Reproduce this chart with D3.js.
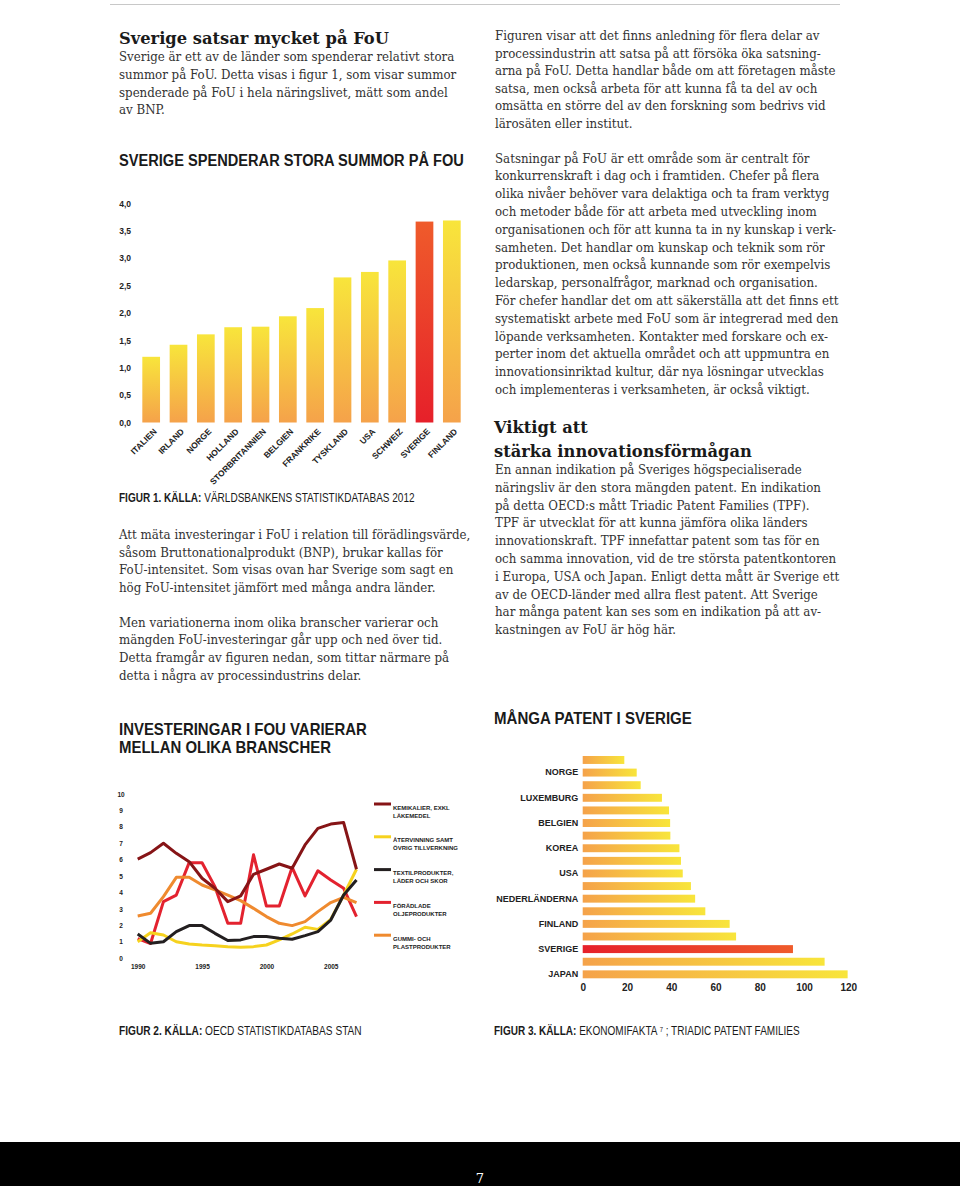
<!DOCTYPE html>
<html>
<head>
<meta charset="utf-8">
<script src="https://cdn.jsdelivr.net/npm/d3@7"></script>
<style>
  html, body { margin: 0; padding: 0; background: #fff; }
  svg { display: block; }
  .body { font-family: "DejaVu Serif", serif; font-size: 12.5px; fill: #333; }
  .head { font-family: "DejaVu Serif", serif; font-weight: bold; font-size: 16.5px; fill: #1a1a1a; }
  .title { font-family: "Liberation Sans", Arial, sans-serif; font-weight: bold; font-size: 17px; fill: #1a1a1a; }
  .cap { font-family: "Liberation Sans", Arial, sans-serif; font-size: 12px; fill: #1a1a1a; }
  .cap .b { font-weight: bold; }
  .tick1 { font-family: "Liberation Sans", Arial, sans-serif; font-weight: bold; font-size: 8.5px; fill: #222; }
  .tick2 { font-family: "Liberation Sans", Arial, sans-serif; font-weight: bold; font-size: 6.5px; fill: #222; }
  .tick3 { font-family: "Liberation Sans", Arial, sans-serif; font-weight: bold; font-size: 10px; fill: #222; }
  .lab3 { font-family: "Liberation Sans", Arial, sans-serif; font-weight: bold; font-size: 9px; fill: #222; }
  .leg { font-family: "Liberation Sans", Arial, sans-serif; font-weight: bold; font-size: 6px; fill: #222; }
</style>
</head>
<body>
<svg id="page" width="960" height="1186"></svg>
<script>
// ---- figur 1: FoU som andel av BNP ----
const fouCountries = ["ITALIEN", "IRLAND", "NORGE", "HOLLAND", "STORBRITANNIEN", "BELGIEN",
  "FRANKRIKE", "TYSKLAND", "USA", "SCHWEIZ", "SVERIGE", "FINLAND"];
const fouShare = [1.2, 1.42, 1.61, 1.74, 1.75, 1.94, 2.09, 2.65, 2.75, 2.96, 3.67, 3.69];
const fouTicks = [0, 0.5, 1, 1.5, 2, 2.5, 3, 3.5, 4];

// ---- figur 2: investeringar i FoU per bransch ----
const years = [1990, 1991, 1992, 1993, 1994, 1995, 1996, 1997, 1998, 1999,
  2000, 2001, 2002, 2003, 2004, 2005, 2006, 2007];
const kemikalier = [6.04, 6.43, 7.0, 6.39, 5.88, 4.87, 4.26, 3.45, 3.8, 5.11, 5.42, 5.74, 5.48, 6.9, 7.91, 8.17, 8.26, 5.42];
const atervinning = [1.01, 1.56, 1.42, 1.01, 0.87, 0.81, 0.77, 0.71, 0.67, 0.71, 0.81, 1.12, 1.48, 1.89, 1.76, 2.37, 3.85, 5.42];
const textil = [1.48, 0.91, 1.01, 1.62, 1.99, 1.99, 1.52, 1.08, 1.12, 1.32, 1.32, 1.22, 1.16, 1.38, 1.62, 2.33, 3.85, 4.77];
const oljeprodukter = [1.2, 0.9, 3.45, 3.85, 5.82, 5.82, 4.36, 2.13, 2.13, 6.3, 3.18, 3.18, 5.54, 3.8, 5.33, 4.77, 4.26, 2.54];
const gummi = [2.58, 2.74, 3.75, 4.93, 4.93, 4.46, 4.16, 3.85, 3.51, 3.04, 2.54, 2.13, 1.99, 2.23, 2.84, 3.39, 3.71, 3.39];
const yearTicks = [1990, 1995, 2000, 2005];
const valueTicks = [0, 1, 2, 3, 4, 5, 6, 7, 8, 9, 10];

const seriesNames = [["KEMIKALIER, EXKL", "LÄKEMEDEL"], ["ÅTERVINNING SAMT", "ÖVRIG TILLVERKNING"],
  ["TEXTILPRODUKTER,", "LÄDER OCH SKOR"], ["FÖRÄDLADE", "OLJEPRODUKTER"], ["GUMMI- OCH", "PLASTPRODUKTER"]];
const seriesColors = ["#861416", "#f6d21e", "#231f20", "#e3222f", "#ef8a2f"];
const seriesValues = [kemikalier, atervinning, textil, oljeprodukter, gummi];
// drawing order (back to front)
const drawOrder = [3, 1, 4, 2, 0];

// ---- figur 3: triadic patent families ----
const patentLabels = ["", "NORGE", "", "LUXEMBURG", "", "BELGIEN", "", "KOREA", "", "USA",
  "", "NEDERLÄNDERNA", "", "FINLAND", "", "SVERIGE", "", "JAPAN"];
const patentValues = [18.8, 24.4, 26.2, 35.8, 39.0, 39.5, 39.6, 43.7, 44.4, 45.2,
  48.9, 50.8, 55.4, 66.4, 69.3, 95.0, 109.3, 119.7];
const patentTicks = [0, 20, 40, 60, 80, 100, 120];

// ---- texts ----
const introLines = ["Sverige är ett av de länder som spenderar relativt stora",
  "summor på FoU. Detta visas i figur 1, som visar summor",
  "spenderade på FoU i hela näringslivet, mätt som andel",
  "av BNP."];
const rightTopLines = ["Figuren visar att det finns anledning för flera delar av",
  "processindustrin att satsa på att försöka öka satsning-",
  "arna på FoU. Detta handlar både om att företagen måste",
  "satsa, men också arbeta för att kunna få ta del av och",
  "omsätta en större del av den forskning som bedrivs vid",
  "lärosäten eller institut."];
const rightMidLines = ["Satsningar på FoU är ett område som är centralt för",
  "konkurrenskraft i dag och i framtiden. Chefer på flera",
  "olika nivåer behöver vara delaktiga och ta fram verktyg",
  "och metoder både för att arbeta med utveckling inom",
  "organisationen och för att kunna ta in ny kunskap i verk-",
  "samheten. Det handlar om kunskap och teknik som rör",
  "produktionen, men också kunnande som rör exempelvis",
  "ledarskap, personalfrågor, marknad och organisation.",
  "För chefer handlar det om att säkerställa att det finns ett",
  "systematiskt arbete med FoU som är integrerad med den",
  "löpande verksamheten. Kontakter med forskare och ex-",
  "perter inom det aktuella området och att uppmuntra en",
  "innovationsinriktad kultur, där nya lösningar utvecklas",
  "och implementeras i verksamheten, är också viktigt."];
const rightLowLines = ["En annan indikation på Sveriges högspecialiserade",
  "näringsliv är den stora mängden patent. En indikation",
  "på detta OECD:s mått Triadic Patent Families (TPF).",
  "TPF är utvecklat för att kunna jämföra olika länders",
  "innovationskraft. TPF innefattar patent som tas för en",
  "och samma innovation, vid de tre största patentkontoren",
  "i Europa, USA och Japan. Enligt detta mått är Sverige ett",
  "av de OECD-länder med allra flest patent. Att Sverige",
  "har många patent kan ses som en indikation på att av-",
  "kastningen av FoU är hög här."];
const leftMidLines = ["Att mäta investeringar i FoU i relation till förädlingsvärde,",
  "såsom Bruttonationalprodukt (BNP), brukar kallas för",
  "FoU-intensitet. Som visas ovan har Sverige som sagt en",
  "hög FoU-intensitet jämfört med många andra länder.",
  "Men variationerna inom olika branscher varierar och",
  "mängden FoU-investeringar går upp och ned över tid.",
  "Detta framgår av figuren nedan, som tittar närmare på",
  "detta i några av processindustrins delar."];

const svg = d3.select("#page");
const defs = svg.append("defs");

function gradient(id, horizontal, from, to) {
  const g = defs.append("linearGradient").attr("id", id)
    .attr("x1", 0).attr("y1", 0)
    .attr("x2", horizontal ? 1 : 0).attr("y2", horizontal ? 0 : 1);
  g.append("stop").attr("offset", 0).attr("stop-color", from);
  g.append("stop").attr("offset", 1).attr("stop-color", to);
}
gradient("barV", false, "#f8e53b", "#f5a24a");
gradient("barVHi", false, "#ef5b2b", "#e6202a");
gradient("barH", true, "#f5a24a", "#f8e53b");
gradient("barHHi", true, "#e6202a", "#ef5b2b");

function measure(txt, cls) {
  const t = svg.append("text").attr("class", cls).text(txt);
  const w = t.node().getComputedTextLength();
  t.remove();
  return w;
}

function block(x, baselines, lines, cls, sx) {
  const g = svg.append("g").attr("class", cls);
  lines.forEach((line, i) => {
    g.append("text")
      .attr("transform", `translate(${x},${baselines[i]}) scale(${sx},1)`)
      .text(line);
  });
}

function rows(y0, step, n) {
  return d3.range(n).map(i => y0 + i * step);
}

// caption with bold lead and optional superscript
function caption(x, y, parts, target) {
  const t = svg.append("text").attr("class", "cap");
  parts.forEach(p => {
    const s = t.append("tspan").text(p.t);
    if (p.b) s.attr("class", "b");
    if (p.sup) s.attr("baseline-shift", "super").attr("font-size", "7px");
  });
  const w = t.node().getComputedTextLength();
  t.attr("transform", `translate(${x},${y}) scale(${target / w},1)`);
}

function title(x, baselines, lines, target) {
  const sx = target / measure(lines[0], "title");
  block(x, baselines, lines, "title", sx);
}

// page frame
svg.append("line").attr("x1", 110).attr("x2", 840).attr("y1", 4.5).attr("y2", 4.5)
  .attr("stroke", "#c8c8c8").attr("stroke-width", 1);
svg.append("rect").attr("x", 0).attr("y", 1142).attr("width", 960).attr("height", 44).attr("fill", "#000");
svg.append("text").attr("x", 480).attr("y", 1183).attr("text-anchor", "middle")
  .attr("font-family", "DejaVu Serif, serif").attr("font-size", 13).attr("fill", "#fff").text("7");

// body text
const bodyScale = 341 / measure(rightTopLines[2], "body");
const headScale = 258 / measure("stärka innovationsförmågan", "head");

block(119, [43.5], ["Sverige satsar mycket på FoU"], "head", headScale);
block(119, rows(61, 17.8, 4), introLines, "body", bodyScale);
block(495, rows(40, 17.6, 6), rightTopLines, "body", bodyScale);
block(495, rows(162.5, 17.8, 14), rightMidLines, "body", bodyScale);
block(494, [433.3, 456.7], ["Viktigt att", "stärka innovationsförmågan"], "head", headScale);
block(495, rows(474, 17.8, 10), rightLowLines, "body", bodyScale);
block(119, rows(539, 17.6, 4).concat(rows(626.7, 17.6, 4)), leftMidLines, "body", bodyScale);

// ---- figur 1 ----
title(119, [166], ["SVERIGE SPENDERAR STORA SUMMOR PÅ FOU"], 345);

const x1 = d3.scaleBand().domain(fouCountries).range([132.7, 470.3]).padding(0.352);
const y1 = d3.scaleLinear().domain([0, 4]).range([422.5, 203.5]);
const sv = d3.formatLocale({ decimal: ",", thousands: " ", grouping: [3], currency: ["", " kr"] });

svg.append("g").attr("transform", "translate(131,0)")
  .call(d3.axisLeft(y1).tickValues(fouTicks).tickFormat(sv.format(".1f")).tickSize(0).tickPadding(0))
  .call(g => g.select(".domain").remove())
  .selectAll("text").attr("class", "tick1");

svg.append("g").selectAll("rect")
  .data(fouCountries)
  .join("rect")
  .attr("x", d => x1(d))
  .attr("y", (d, i) => y1(fouShare[i]))
  .attr("width", x1.bandwidth())
  .attr("height", (d, i) => y1(0) - y1(fouShare[i]))
  .attr("fill", d => d === "SVERIGE" ? "url(#barVHi)" : "url(#barV)");

svg.append("g").attr("transform", "translate(0,424)")
  .call(d3.axisBottom(x1).tickSize(0))
  .call(g => g.select(".domain").remove())
  .selectAll("text")
  .attr("class", "tick1")
  .attr("text-anchor", "end")
  .attr("x", 0).attr("y", 0).attr("dy", "0.35em")
  .attr("transform", "translate(4,6) rotate(-45)");

caption(119, 502, [{ t: "FIGUR 1. KÄLLA: ", b: true }, { t: "VÄRLDSBANKENS STATISTIKDATABAS 2012" }], 296);

// ---- figur 2 ----
title(119, [735, 753], ["INVESTERINGAR I FOU VARIERAR", "MELLAN OLIKA BRANSCHER"], 248);

const x2 = d3.scaleLinear().domain([1990, 2007]).range([137.7, 356.5]);
const y2 = d3.scaleLinear().domain([0, 10]).range([958.3, 794]);

svg.append("g").attr("transform", "translate(121,0)")
  .call(d3.axisLeft(y2).tickValues(valueTicks).tickFormat(d3.format("d")).tickSize(0).tickPadding(0))
  .call(g => g.select(".domain").remove())
  .selectAll("text").attr("class", "tick2").attr("text-anchor", "middle").attr("x", 0);

svg.append("g").attr("transform", "translate(0,958.3)")
  .call(d3.axisBottom(x2).tickValues(yearTicks).tickFormat(d3.format("d")).tickSize(0).tickPadding(6.5))
  .call(g => g.select(".domain").remove())
  .selectAll("text").attr("class", "tick2");

const line2 = d3.line().x((d, i) => x2(years[i])).y(d => y2(d));
svg.append("g").selectAll("path")
  .data(drawOrder)
  .join("path")
  .attr("d", k => line2(seriesValues[k]))
  .attr("fill", "none")
  .attr("stroke", k => seriesColors[k])
  .attr("stroke-width", 3)
  .attr("stroke-linejoin", "round");

const legend = svg.append("g").attr("transform", "translate(374,804)");
seriesNames.forEach((name, i) => {
  const item = legend.append("g").attr("transform", `translate(0,${i * 32.8})`);
  item.append("line").attr("x1", 0).attr("x2", 17).attr("stroke", seriesColors[i]).attr("stroke-width", 3);
  item.append("text").attr("class", "leg").attr("x", 19).attr("y", 5.5).text(name[0]);
  item.append("text").attr("class", "leg").attr("x", 19).attr("y", 13.5).text(name[1]);
});

caption(119, 1035, [{ t: "FIGUR 2. KÄLLA: ", b: true }, { t: "OECD STATISTIKDATABAS STAN" }], 243);

// ---- figur 3 ----
title(494, [724], ["MÅNGA PATENT I SVERIGE"], 198);

const y3 = d3.scaleBand().domain(patentLabels.map((d, i) => i)).range([756, 978.3]).paddingInner(0.37);
const x3 = d3.scaleLinear().domain([0, 120]).range([582.7, 848.3]);

svg.append("g").selectAll("rect")
  .data(patentValues)
  .join("rect")
  .attr("x", x3(0))
  .attr("y", (d, i) => y3(i))
  .attr("width", d => x3(d) - x3(0))
  .attr("height", y3.bandwidth())
  .attr("fill", (d, i) => patentLabels[i] === "SVERIGE" ? "url(#barHHi)" : "url(#barH)");

svg.append("g").attr("transform", `translate(${x3(0)},0)`)
  .call(d3.axisLeft(y3).tickFormat(i => patentLabels[i]).tickSize(0).tickPadding(4.5))
  .call(g => g.select(".domain").remove())
  .selectAll("text").attr("class", "lab3");

svg.append("g").attr("transform", "translate(0,979)")
  .call(d3.axisBottom(x3).tickValues(patentTicks).tickSize(0).tickPadding(5))
  .call(g => g.select(".domain").remove())
  .selectAll("text").attr("class", "tick3");

caption(494, 1035, [{ t: "FIGUR 3. KÄLLA: ", b: true }, { t: "EKONOMIFAKTA " }, { t: "7", sup: true },
  { t: " ; TRIADIC PATENT FAMILIES" }], 306);
</script>
</body>
</html>
